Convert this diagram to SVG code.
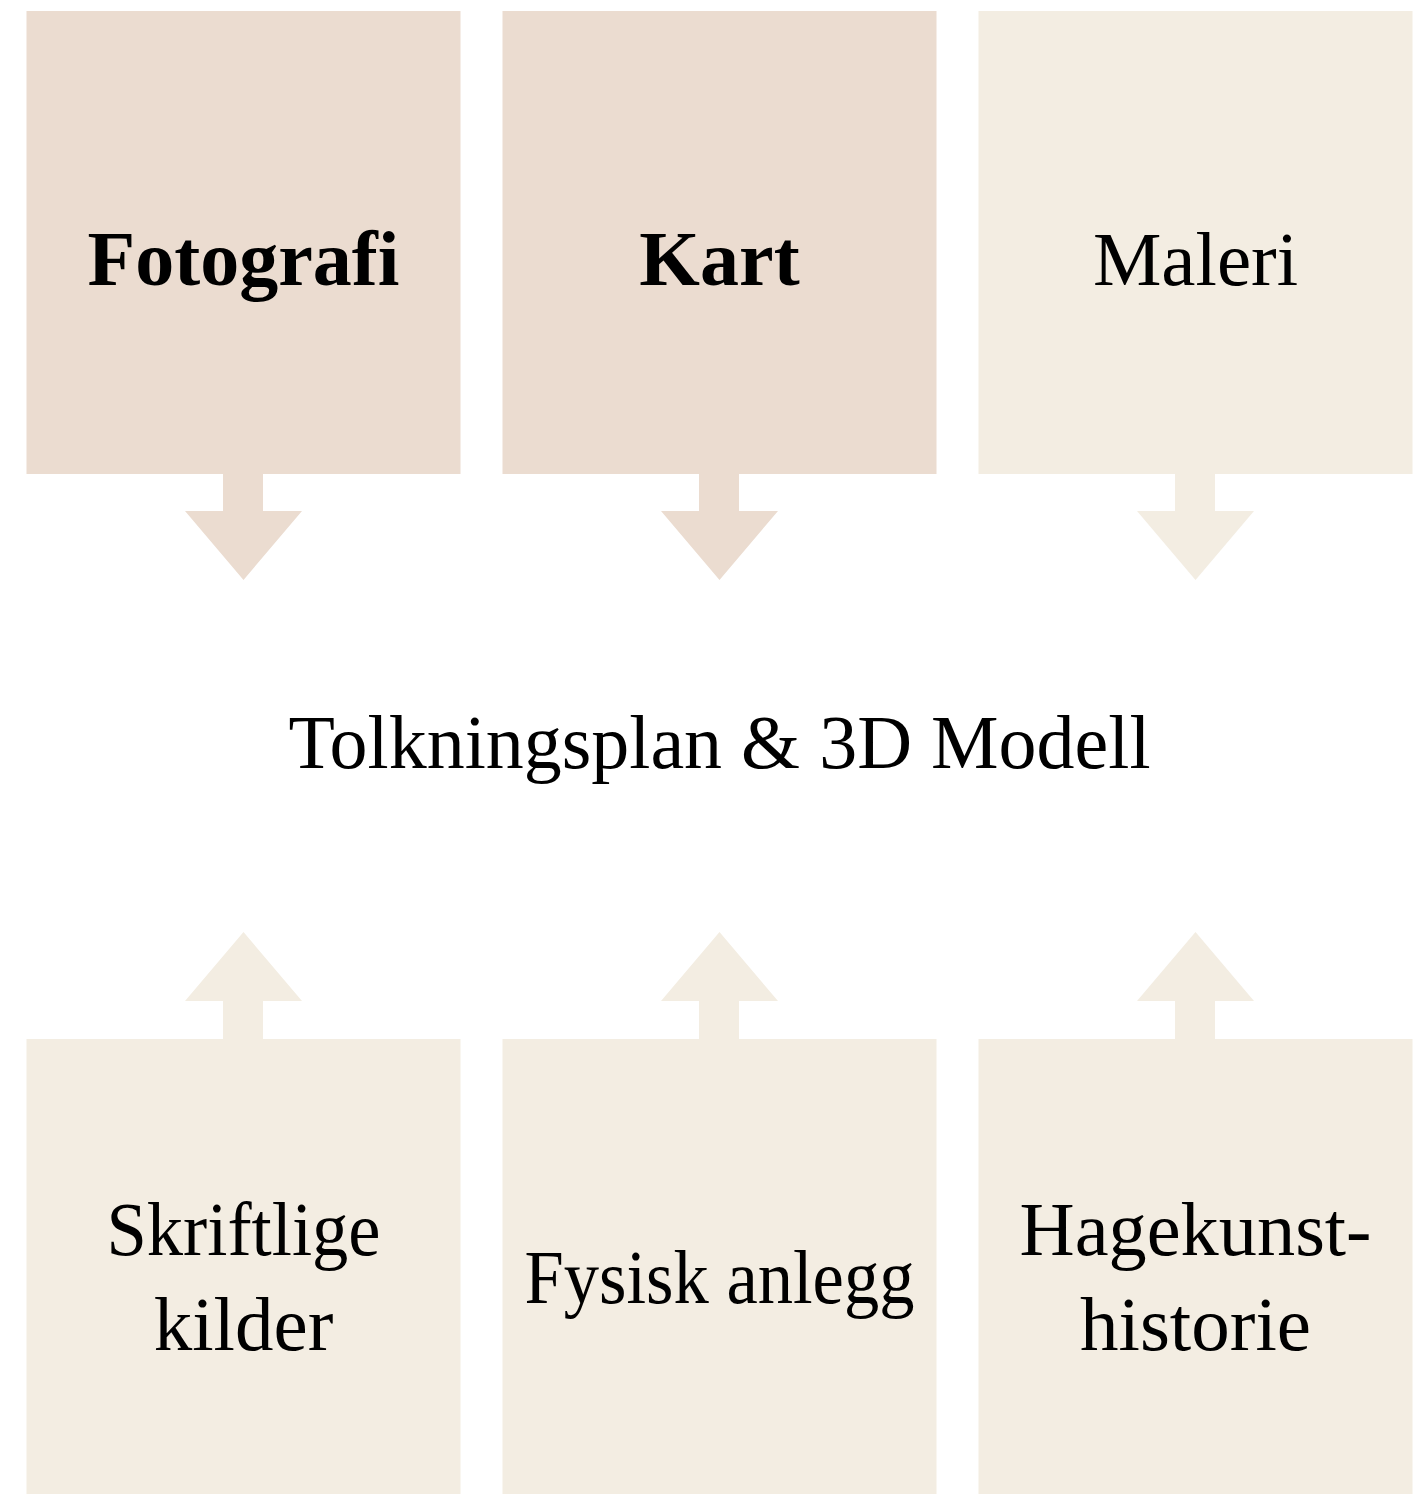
<svg xmlns="http://www.w3.org/2000/svg" width="1423" height="1494" viewBox="0 0 1423 1494">
<style>
.dark{fill:#EBDCD0}
.light{fill:#F3EDE2}
text{font-family:"Liberation Serif","Times New Roman",serif;font-size:77px;fill:#000;text-anchor:middle}
.b{font-weight:bold;font-size:78px}
</style>
<rect width="1423" height="1494" fill="#fff"/>
<g id="connectors">
<polygon class="dark" points="223,473 263,473 263,511 302,511 243.5,580 185,511 223,511"/>
<polygon class="dark" points="699,473 739,473 739,511 778,511 719.5,580 661,511 699,511"/>
<polygon class="light" points="1175,473 1215,473 1215,511 1254,511 1195.5,580 1137,511 1175,511"/>
<polygon class="light" points="223,1040 263,1040 263,1001 302,1001 243.5,932 185,1001 223,1001"/>
<polygon class="light" points="699,1040 739,1040 739,1001 778,1001 719.5,932 661,1001 699,1001"/>
<polygon class="light" points="1175,1040 1215,1040 1215,1001 1254,1001 1195.5,932 1137,1001 1175,1001"/>
</g>
<g id="fotografi"><rect class="dark" x="26.5" y="11" width="434" height="463"/><text class="b" x="243.5" y="285">Fotografi</text></g>
<g id="kart"><rect class="dark" x="502.5" y="11" width="434" height="463"/><text class="b" x="719.5" y="285">Kart</text></g>
<g id="maleri"><rect class="light" x="978.5" y="11" width="434" height="463"/><text x="1195.5" y="285">Maleri</text></g>
<g id="tolkning"><text x="719.5" y="768" textLength="862" lengthAdjust="spacingAndGlyphs">Tolkningsplan &amp; 3D Modell</text></g>
<g id="skriftlige"><rect class="light" x="26.5" y="1039" width="434" height="455"/><text x="243.5" y="1255" textLength="274" lengthAdjust="spacingAndGlyphs">Skriftlige</text><text x="243.5" y="1350">kilder</text></g>
<g id="fysisk"><rect class="light" x="502.5" y="1039" width="434" height="455"/><text x="719.5" y="1303" textLength="390" lengthAdjust="spacingAndGlyphs">Fysisk anlegg</text></g>
<g id="hagekunst"><rect class="light" x="978.5" y="1039" width="434" height="455"/><text x="1195.5" y="1255" textLength="352" lengthAdjust="spacingAndGlyphs">Hagekunst-</text><text x="1195.5" y="1350">historie</text></g>
</svg>
